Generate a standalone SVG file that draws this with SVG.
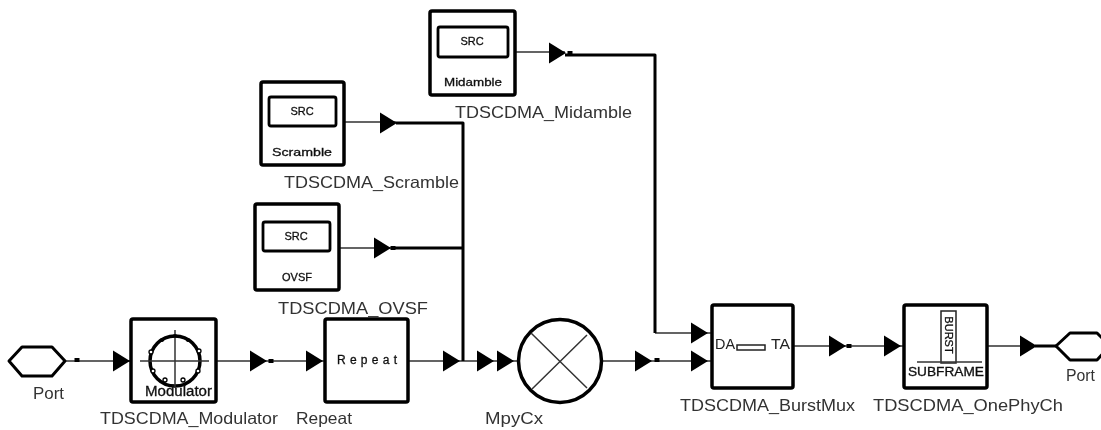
<svg xmlns="http://www.w3.org/2000/svg" width="1101" height="430" viewBox="0 0 1101 430">
<style>
text{font-family:"Liberation Sans",Arial,sans-serif;fill:#222}
.lb{font-size:16.500px;fill:#333}
.sm{font-size:11px;text-anchor:middle;fill:#111;stroke:#111;stroke-width:.3}
.box{fill:#fff;stroke:#000;stroke-width:3.500;stroke-linejoin:round}
.in{fill:#fff;stroke:#000;stroke-width:2.800;stroke-linejoin:round}
.w{fill:none;stroke:#333;stroke-width:1.500}
.t{fill:none;stroke:#000;stroke-width:3;stroke-linejoin:round}
.l{fill:none;stroke:#333;stroke-width:1.500}
</style>
<defs>
<path id="a" d="M0-10.500L17 0L0 10.500Z" fill="#000"/>
<rect id="d" x="-2.500" y="-2" width="5" height="4" fill="#000"/>
<filter id="soft" filterUnits="userSpaceOnUse" x="0" y="0" width="1101" height="430"><feGaussianBlur stdDeviation="0.550"/></filter>
</defs>
<rect width="1101" height="430" fill="#fff"/>
<g filter="url(#soft)">
<g id="connectors">
<path class="w" d="M65 361H131M216 361H325M408 361H518M603 361H712M793 346H904M987 346H1056M344 122H396M339 248H395M515 52H565M655 333H712"/>
<path class="t" d="M396 123H463V361M395 248H463M565 55H655V333M1035 346H1056"/>
<use href="#d" x="77" y="360"/><use href="#d" x="271" y="361"/><use href="#d" x="657" y="360"/><use href="#d" x="849" y="346"/><use href="#d" x="393" y="248"/><use href="#d" x="570" y="53"/>
<use href="#a" x="113" y="361"/><use href="#a" x="250" y="361"/><use href="#a" x="306" y="361"/><use href="#a" x="443" y="361"/><use href="#a" x="477" y="361"/><use href="#a" x="497" y="361"/><use href="#a" x="635" y="361"/><use href="#a" x="691" y="361"/><use href="#a" x="691" y="333"/><use href="#a" x="829" y="346"/><use href="#a" x="884" y="346"/><use href="#a" x="1020" y="346"/><use href="#a" x="380" y="123"/><use href="#a" x="374" y="248"/><use href="#a" x="549" y="53"/>
</g>
<g id="port-in"><path class="box" style="stroke-width:3" d="M9 361L22 347H52L65 361L52 376H22Z"/><text class="lb" x="33" y="399" textLength="31" lengthAdjust="spacingAndGlyphs">Port</text></g>
<g id="modulator"><rect class="box" x="131" y="319" width="85" height="83" rx="2"/>
<circle cx="175" cy="361" r="25" fill="none" stroke="#000" stroke-width="3.500"/>
<path class="l" d="M140 361H209M175 330V388"/>
<g fill="#fff" stroke="#000" stroke-width="1.300"><circle cx="151" cy="352" r="2"/><circle cx="199" cy="351" r="2"/><circle cx="153" cy="371" r="2"/><circle cx="198" cy="371" r="2"/><circle cx="165" cy="380" r="2"/><circle cx="183" cy="380" r="2"/></g>
<g fill="#000"><circle cx="162" cy="340" r="2"/><circle cx="175" cy="336" r="2"/><circle cx="188" cy="340" r="2"/></g>
<text x="145" y="396" style="font-size:14px;fill:#111;stroke:#111;stroke-width:.3" textLength="67" lengthAdjust="spacingAndGlyphs">Modulator</text>
<text class="lb" x="100" y="424" textLength="178" lengthAdjust="spacingAndGlyphs">TDSCDMA_Modulator</text></g>
<g id="repeat"><rect class="box" x="325" y="319" width="83" height="83" rx="2"/><text x="337" y="364" style="font-size:12px;fill:#111;stroke:#111;stroke-width:.3" textLength="60" lengthAdjust="spacing">Repeat</text>
<text class="lb" x="296" y="424" textLength="56" lengthAdjust="spacingAndGlyphs">Repeat</text></g>
<g id="mpycx"><circle cx="560" cy="361" r="41.500" fill="#fff" stroke="#000" stroke-width="3.500"/><path class="l" d="M531 333L587 388M587 335L532 389"/>
<text class="lb" x="485" y="424" textLength="58" lengthAdjust="spacingAndGlyphs">MpyCx</text></g>
<g id="burstmux"><rect class="box" x="712" y="305" width="81" height="83" rx="2"/><text x="715" y="349" style="font-size:14px" textLength="20" lengthAdjust="spacingAndGlyphs">DA</text><rect x="737" y="345" width="28" height="5" fill="#fff" stroke="#222" stroke-width="1.500"/><text x="771" y="349" style="font-size:14px" textLength="19" lengthAdjust="spacingAndGlyphs">TA</text>
<text class="lb" x="680" y="411" textLength="175" lengthAdjust="spacingAndGlyphs">TDSCDMA_BurstMux</text></g>
<g id="onephych"><rect class="box" x="904" y="305" width="83" height="83" rx="2"/><rect x="941" y="311" width="15" height="52" fill="#fff" stroke="#222" stroke-width="1.500"/><path class="l" d="M917 362H982"/>
<text class="sm" transform="translate(944.500 335) rotate(90)">BURST</text>
<text class="sm" x="946" y="376" style="font-size:12px" textLength="76" lengthAdjust="spacingAndGlyphs">SUBFRAME</text>
<text class="lb" x="873" y="411" textLength="190" lengthAdjust="spacingAndGlyphs">TDSCDMA_OnePhyCh</text></g>
<g id="port-out"><path class="box" style="stroke-width:3" d="M1056 346L1070 333H1097L1110 346L1097 360H1070Z"/><text class="lb" x="1066" y="381" textLength="29" lengthAdjust="spacingAndGlyphs">Port</text></g>
<g id="scramble"><rect class="box" x="261" y="82" width="83" height="83" rx="2"/><rect class="in" x="269" y="97" width="67" height="29" rx="2"/><text class="sm" x="302" y="115">SRC</text><text class="sm" x="302" y="156" textLength="60" lengthAdjust="spacingAndGlyphs">Scramble</text>
<text class="lb" x="284" y="188" textLength="175" lengthAdjust="spacingAndGlyphs">TDSCDMA_Scramble</text></g>
<g id="ovsf"><rect class="box" x="255" y="204" width="84" height="86" rx="2"/><rect class="in" x="263" y="222" width="67" height="29" rx="2"/><text class="sm" x="296" y="240">SRC</text><text class="sm" x="297" y="281">OVSF</text>
<text class="lb" x="278" y="314" textLength="150" lengthAdjust="spacingAndGlyphs">TDSCDMA_OVSF</text></g>
<g id="midamble"><rect class="box" x="430" y="11" width="85" height="84" rx="2"/><rect class="in" x="438" y="27" width="70" height="30" rx="2"/><text class="sm" x="472" y="45">SRC</text><text class="sm" x="473" y="86" textLength="58" lengthAdjust="spacingAndGlyphs">Midamble</text>
<text class="lb" x="455" y="118" textLength="177" lengthAdjust="spacingAndGlyphs">TDSCDMA_Midamble</text></g>
</g>
</svg>
